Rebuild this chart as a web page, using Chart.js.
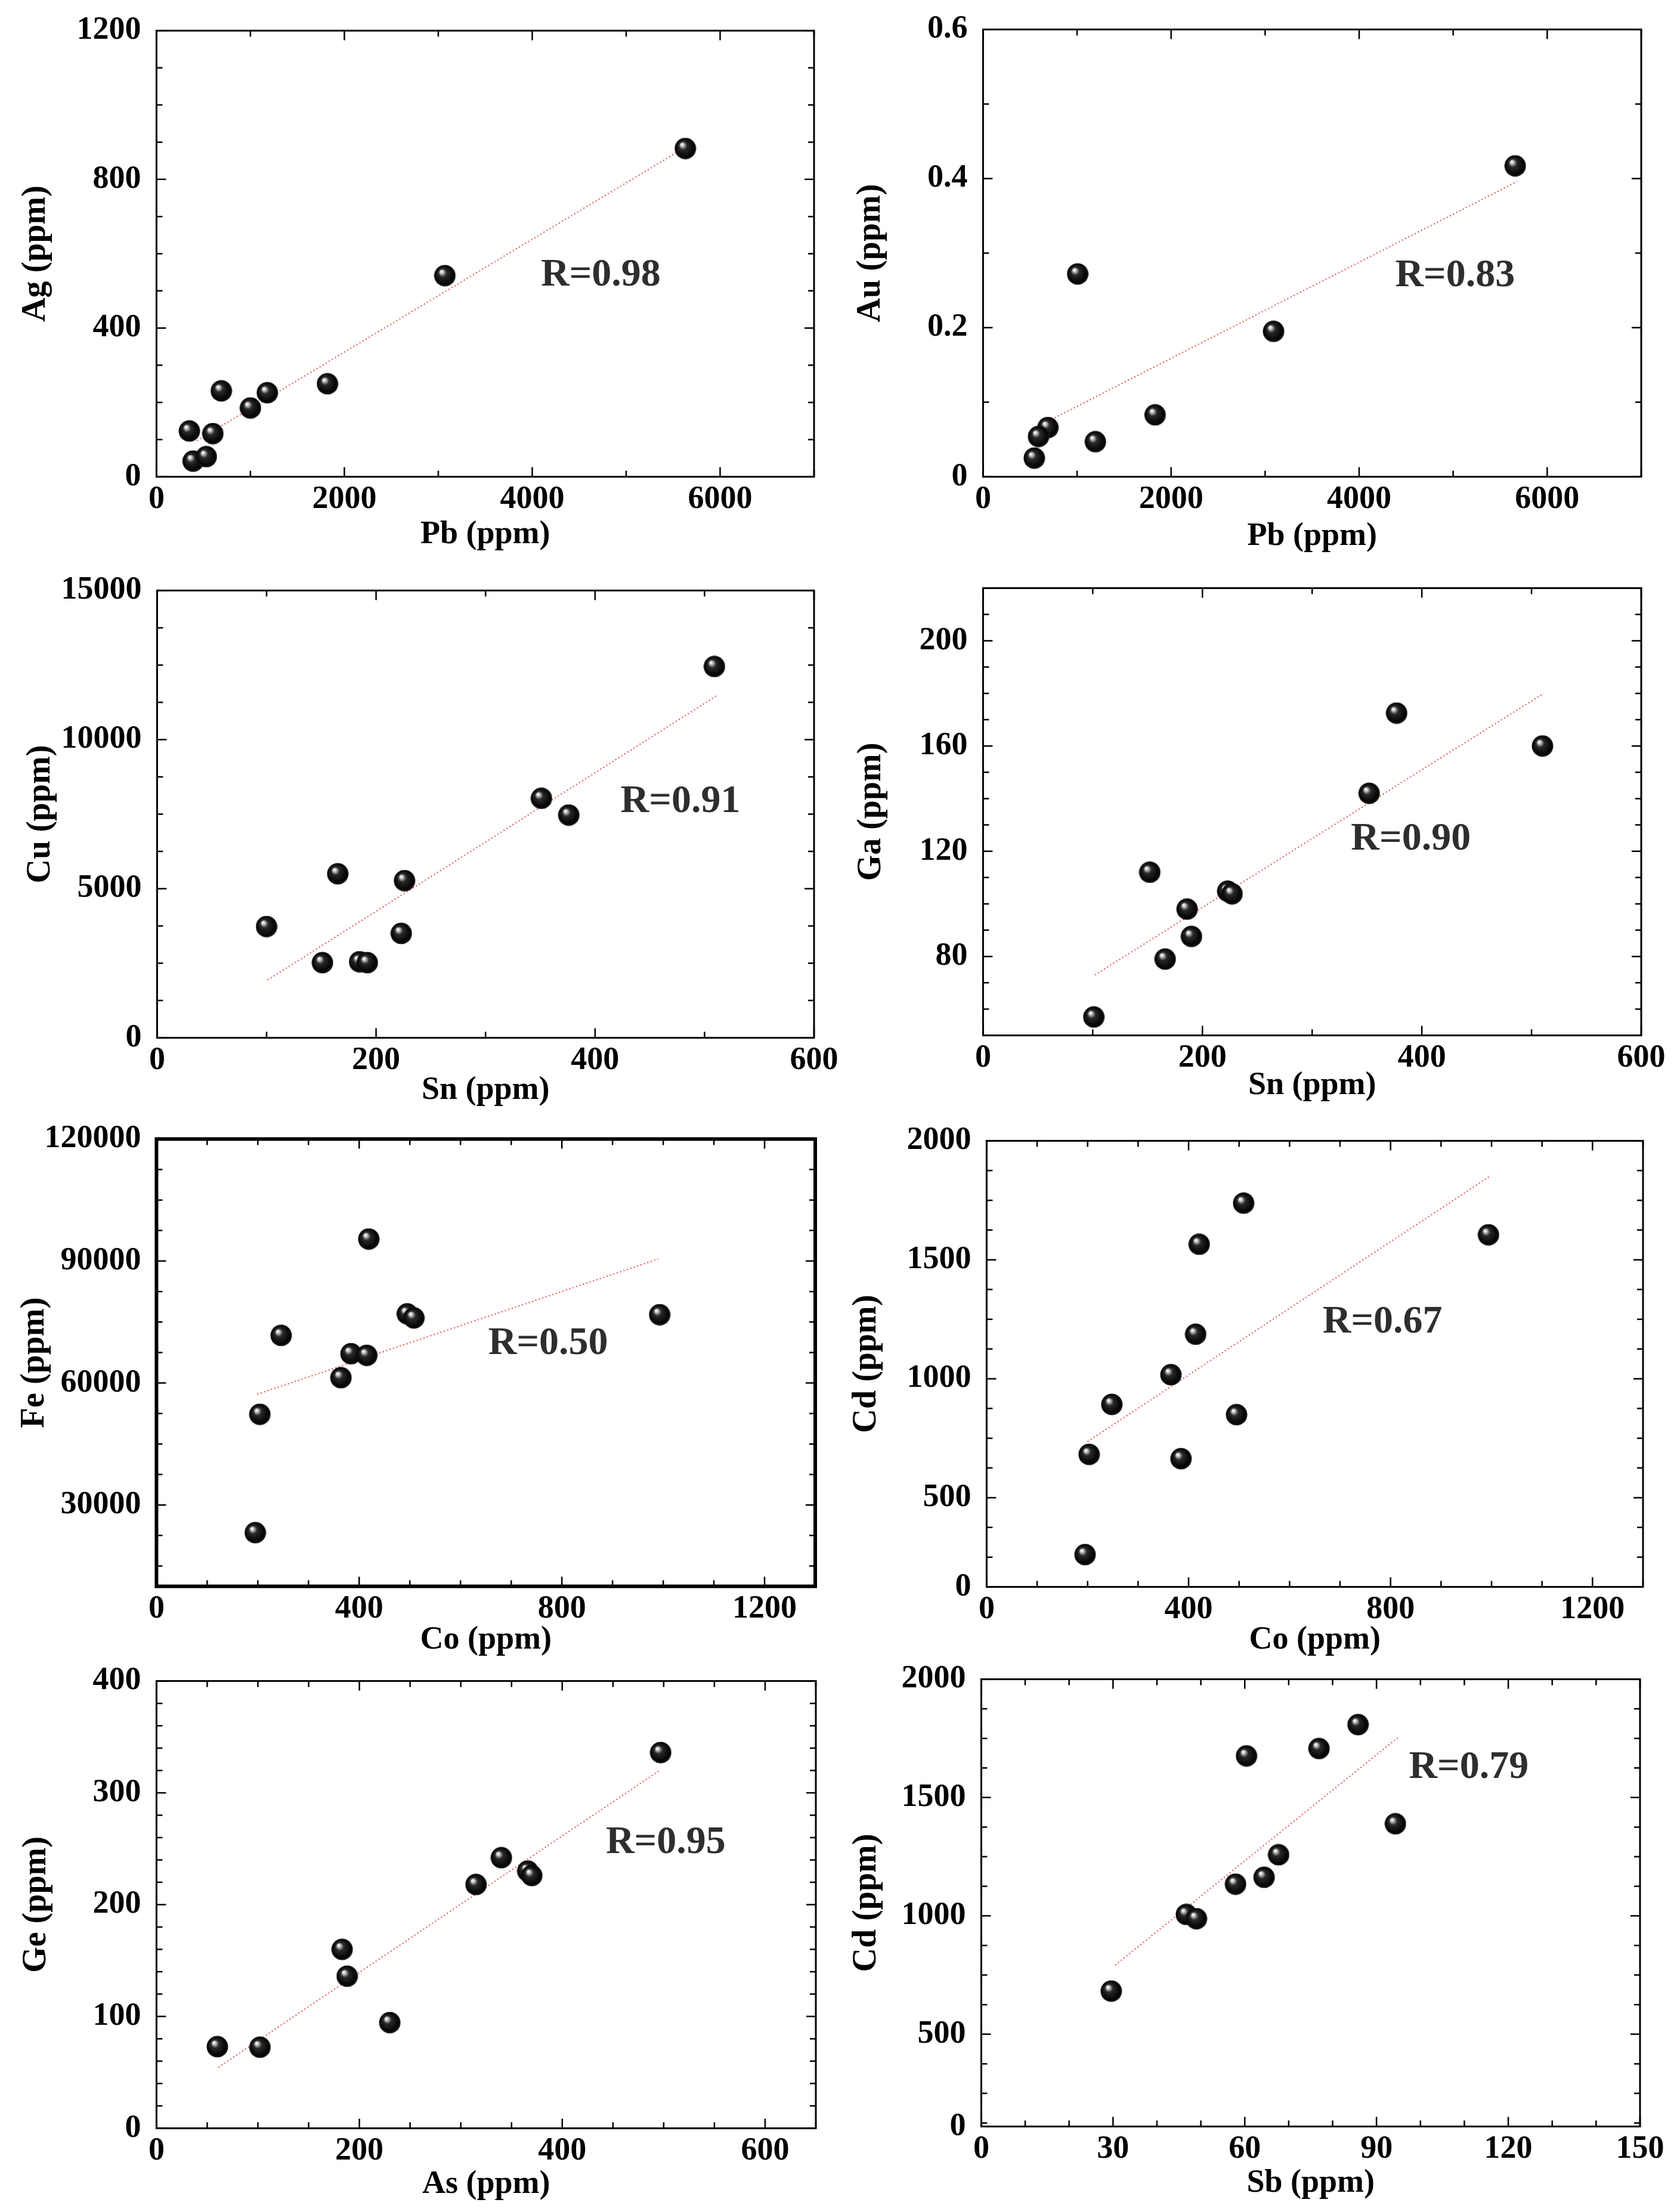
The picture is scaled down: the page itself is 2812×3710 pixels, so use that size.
<!DOCTYPE html>
<html><head><meta charset="utf-8">
<script src="https://cdn.jsdelivr.net/npm/chart.js@4.4.1/dist/chart.umd.min.js"></script>
<style>
html,body{margin:0;padding:0;background:#fff;width:2812px;height:3710px;overflow:hidden;position:relative}
canvas{position:absolute}
</style>
</head><body>
<script>
// ---------- data ----------
// Panel 1: Ag vs Pb
const pb1 = [5630, 3070, 1820, 690, 1180, 1000, 350, 600, 390, 530];
const ag1 = [883, 541, 250, 231, 226, 185, 123, 116, 42, 54];
const fitPb1 = [430, 5550];
const fitAg1 = [97, 874];
// Panel 2: Au vs Pb
const pb2 = [5660, 1006, 3090, 1830, 690, 590, 1195, 545];
const au2 = [0.417, 0.272, 0.195, 0.083, 0.066, 0.054, 0.047, 0.025];
const fitPb2 = [660, 5680];
const fitAu2 = [0.0725, 0.396];
// Panel 3: Cu vs Sn
const sn3 = [509, 351, 376, 165, 226, 100, 223, 151, 185, 192];
const cu3 = [12450, 8030, 7470, 5500, 5270, 3730, 3500, 2520, 2550, 2520];
const fitSn3 = [101, 511];
const fitCu3 = [1940, 11470];
// Panel 4: Ga vs Sn
const sn4 = [377, 510, 352, 152, 223, 227, 186, 190, 166, 101];
const ga4 = [172.5, 160, 142, 112, 104.8, 103.8, 98, 87.6, 79, 57];
const fitSn4 = [102, 511];
const fitGa4 = [73, 180];
// Panel 5: Fe vs Co
const co5 = [419, 495, 508, 993, 246, 384, 415, 364, 204, 195];
const fe5 = [95400, 77000, 76000, 76800, 71700, 67200, 66800, 61300, 52300, 23200];
const fitCo5 = [199, 990];
const fitFe5 = [57250, 90500];
// Panel 6: Cd vs Co
const co6 = [509, 421, 994, 414, 365, 248, 495, 203, 385, 195];
const cd6 = [1738, 1565, 1605, 1187, 1017, 892, 849, 682, 664, 261];
const fitCo6 = [200, 998];
const fitCd6 = [736, 1853];
// Panel 7: Ge vs As
const as7 = [497, 340, 366, 370, 315, 183, 188, 230, 60, 102];
const ge7 = [336, 242, 230, 226, 218, 160, 136, 94.5, 73, 72.5];
const fitAs7 = [61, 497];
const fitGe7 = [54.5, 320.6];
// Panel 8: Cd vs Sb
const sb8 = [85.8, 76.9, 60.4, 94.3, 67.7, 64.4, 57.9, 46.7, 49.0, 29.6];
const cd8 = [1808, 1707, 1676, 1389, 1258, 1163, 1134, 1006, 988, 682];
const fitSb8 = [30.5, 94.9];
const fitCd8 = [792, 1754];

// correlation labels
const rLabels = ['R=0.98', 'R=0.83', 'R=0.91', 'R=0.90', 'R=0.50', 'R=0.67', 'R=0.95', 'R=0.79'];

// tick values and tick labels
const ticksPb = [0, 2000, 4000, 6000];
const labelsPb = ['0', '2000', '4000', '6000'];
const ticksAg = [0, 400, 800, 1200];
const labelsAg = ['0', '400', '800', '1200'];
const ticksAu = [0, 0.2, 0.4, 0.6];
const labelsAu = ['0', '0.2', '0.4', '0.6'];
const ticksSn = [0, 200, 400, 600];
const labelsSn = ['0', '200', '400', '600'];
const ticksCu = [0, 5000, 10000, 15000];
const labelsCu = ['0', '5000', '10000', '15000'];
const ticksGa = [80, 120, 160, 200];
const labelsGa = ['80', '120', '160', '200'];
const ticksCo = [0, 400, 800, 1200];
const labelsCo = ['0', '400', '800', '1200'];
const ticksFe = [30000, 60000, 90000, 120000];
const labelsFe = ['30000', '60000', '90000', '120000'];
const ticksCd6 = [125, 500, 1000, 1500, 2000];
const labelsCd6 = ['0', '500', '1000', '1500', '2000'];
const ticksAs = [0, 200, 400, 600];
const labelsAs = ['0', '200', '400', '600'];
const ticksGe = [0, 100, 200, 300, 400];
const labelsGe = ['0', '100', '200', '300', '400'];
const ticksSb = [0, 30, 60, 90, 120, 150];
const labelsSb = ['0', '30', '60', '90', '120', '150'];
const ticksCd8 = [110, 500, 1000, 1500, 2000];
const labelsCd8 = ['0', '500', '1000', '1500', '2000'];

// ---------- panel layout / axis configuration ----------
const panels = [
  {xs: pb1, ys: ag1, fx: fitPb1, fy: fitAg1, xr: [0, 7000], yr: [0, 1200], xt: ticksPb, xl: labelsPb, yt: ticksAg, yl: labelsAg,
   xm: 1000, ym: 100, xTitle: 'Pb (ppm)', yTitle: 'Ag (ppm)', r: rLabels[0], rAt: [4730, 541], box: [262, 33, 1365, 800], yOff: 203, xOff: 97, frame: 3},
  {xs: pb2, ys: au2, fx: fitPb2, fy: fitAu2, xr: [0, 7000], yr: [0, 0.6], xt: ticksPb, xl: labelsPb, yt: ticksAu, yl: labelsAu,
   xm: 1000, ym: 0.1, xTitle: 'Pb (ppm)', yTitle: 'Au (ppm)', r: rLabels[1], rAt: [5020, 0.269], box: [1648, 31, 2752, 800], yOff: 189, xOff: 100, frame: 3},
  {xs: sn3, ys: cu3, fx: fitSn3, fy: fitCu3, xr: [0, 600], yr: [0, 15000], xt: ticksSn, xl: labelsSn, yt: ticksCu, yl: labelsCu,
   xm: 100, ym: 1250, xTitle: 'Sn (ppm)', yTitle: 'Cu (ppm)', r: rLabels[2], rAt: [478, 7920], box: [263, 972, 1365, 1741], yOff: 196, xOff: 88, frame: 3},
  {xs: sn4, ys: ga4, fx: fitSn4, fy: fitGa4, xr: [0, 600], yr: [50, 220], xt: ticksSn, xl: labelsSn, yt: ticksGa, yl: labelsGa,
   xm: 100, ym: 10, xTitle: 'Sn (ppm)', yTitle: 'Ga (ppm)', r: rLabels[3], rAt: [390, 124.5], box: [1648, 968, 2752, 1737], yOff: 188, xOff: 84, frame: 3},
  {xs: co5, ys: fe5, fx: fitCo5, fy: fitFe5, xr: [0, 1300], yr: [10000, 120000], xt: ticksCo, xl: labelsCo, yt: ticksFe, yl: labelsFe,
   xm: 100, ym: 7500, xTitle: 'Co (ppm)', yTitle: 'Fe (ppm)', r: rLabels[4], rAt: [773, 69650], box: [262, 1892, 1367, 2661], yOff: 205, xOff: 90, frame: 6},
  {xs: co6, ys: cd6, fx: fitCo6, fy: fitCd6, xr: [0, 1300], yr: [125, 2000], xt: ticksCo, xl: labelsCo, yt: ticksCd6, yl: labelsCd6,
   xm: 100, ym: 125, xTitle: 'Co (ppm)', yTitle: 'Cd (ppm)', r: rLabels[5], rAt: [784, 1237], box: [1654, 1895, 2755, 2662], yOff: 202, xOff: 89, frame: 3},
  {xs: as7, ys: ge7, fx: fitAs7, fy: fitGe7, xr: [0, 650], yr: [0, 400], xt: ticksAs, xl: labelsAs, yt: ticksGe, yl: labelsGe,
   xm: 50, ym: 20, xTitle: 'As (ppm)', yTitle: 'Ge (ppm)', r: rLabels[6], rAt: [502, 255], box: [262, 2801, 1368, 3570], yOff: 202, xOff: 94, frame: 3},
  {xs: sb8, ys: cd8, fx: fitSb8, fy: fitCd8, xr: [0, 150], yr: [110, 2000], xt: ticksSb, xl: labelsSb, yt: ticksCd8, yl: labelsCd8,
   xm: 10, ym: 125, xTitle: 'Sb (ppm)', yTitle: 'Cd (ppm)', r: rLabels[7], rAt: [111, 1626], box: [1645, 2798, 2750, 3567], yOff: 193, xOff: 95, frame: 3}
];

const FONT = '"Liberation Serif", "Times New Roman", serif';
const TICK_FONT = {family: FONT, size: 54, weight: 'bold', lineHeight: 1.2};
const TITLE_FONT = {family: FONT, size: 54, weight: 'bold', lineHeight: 1.2};
const YTITLE_FONT = {family: FONT, size: 56, weight: 'bold', lineHeight: 1.2};

function makeBall(d) {
  const c = document.createElement('canvas');
  c.width = d; c.height = d;
  const g = c.getContext('2d');
  const r = d / 2;
  const grad = g.createRadialGradient(r * 0.68, r * 0.62, r * 0.04, r, r, r);
  grad.addColorStop(0, '#ffffff');
  grad.addColorStop(0.13, '#bdbdbd');
  grad.addColorStop(0.34, '#2a2a2a');
  grad.addColorStop(0.82, '#040404');
  grad.addColorStop(1, '#1c1c1c');
  g.fillStyle = grad;
  g.beginPath(); g.arc(r, r, r - 0.5, 0, Math.PI * 2); g.fill();
  return c;
}
const ball = makeBall(37);

const frameTicks = {
  id: 'frameTicks',
  afterDraw(chart, args, o) {
    const ctx = chart.ctx;
    const {left, top, right, bottom} = chart.chartArea;
    const xs = chart.scales.x, ys = chart.scales.y;
    ctx.save();
    ctx.strokeStyle = '#000';
    ctx.lineWidth = 2.5;
    const eps = 1e-6;
    const isMajor = (v, arr) => arr.some(t => Math.abs(t - v) < 1e-6 * Math.max(1, Math.abs(v)));
    // x ticks (bottom and top, inward)
    for (let i = 0; ; i++) {
      const v = o.xr[0] + i * o.xm;
      if (v > o.xr[1] + eps) break;
      const p = xs.getPixelForValue(v);
      const len = isMajor(v, o.xt) ? 16 : 10;
      ctx.beginPath();
      ctx.moveTo(p, bottom); ctx.lineTo(p, bottom - len);
      ctx.moveTo(p, top); ctx.lineTo(p, top + len);
      ctx.stroke();
    }
    // y ticks (left and right, inward)
    const yStart = Math.ceil((o.yr[0] - eps) / o.ym) * o.ym;
    for (let i = 0; ; i++) {
      const v = yStart + i * o.ym;
      if (v > o.yr[1] + eps) break;
      const p = ys.getPixelForValue(v);
      const len = isMajor(v, o.yt) ? 16 : 10;
      ctx.beginPath();
      ctx.moveTo(left, p); ctx.lineTo(left + len, p);
      ctx.moveTo(right, p); ctx.lineTo(right - len, p);
      ctx.stroke();
    }
    // frame
    ctx.lineWidth = o.frame;
    ctx.strokeRect(left, top, right - left, bottom - top);
    // R label
    ctx.font = 'bold 66px ' + FONT;
    ctx.fillStyle = '#2e2e2e';
    ctx.textAlign = 'center';
    ctx.textBaseline = 'middle';
    ctx.fillText(o.r, xs.getPixelForValue(o.rAt[0]), ys.getPixelForValue(o.rAt[1]));
    ctx.restore();
  }
};

const PAD_TOP = 40, PAD_RIGHT = 70, HALF_LINE = 54 * 1.2 / 2;

panels.forEach((p, idx) => {
  const [L, T, R, B] = p.box;
  const yW = p.yOff + HALF_LINE;
  const xH = p.xOff + HALF_LINE;
  const cv = document.createElement('canvas');
  const W = Math.round(yW + (R - L) + PAD_RIGHT);
  const H = Math.round(PAD_TOP + (B - T) + xH);
  cv.width = W; cv.height = H;
  cv.style.width = W + 'px'; cv.style.height = H + 'px';
  cv.style.left = Math.round(L - yW) + 'px';
  cv.style.top = Math.round(T - PAD_TOP) + 'px';
  document.body.appendChild(cv);

  const pts = p.xs.map((x, i) => ({x: x, y: p.ys[i]}));
  const fit = p.fx.map((x, i) => ({x: x, y: p.fy[i]}));

  new Chart(cv, {
    type: 'scatter',
    data: {
      datasets: [
        {data: pts, pointStyle: ball, pointRadius: 18, pointHoverRadius: 18, order: 1, clip: false},
        {data: fit, showLine: true, pointRadius: 0, borderColor: 'rgba(214,70,70,0.9)', borderWidth: 2.2,
         borderDash: [2, 4], fill: false, order: 2}
      ]
    },
    options: {
      responsive: false,
      animation: false,
      devicePixelRatio: 1,
      events: [],
      layout: {padding: {top: PAD_TOP, right: PAD_RIGHT, left: 0, bottom: 0}},
      plugins: {legend: {display: false}, tooltip: {enabled: false},
        frameTicks: {xr: p.xr, yr: p.yr, xm: p.xm, ym: p.ym, xt: p.xt, yt: p.yt, frame: p.frame, r: p.r, rAt: p.rAt}},
      scales: {
        x: {
          type: 'linear', position: 'bottom', min: p.xr[0], max: p.xr[1],
          grid: {display: false, drawTicks: false}, border: {display: false},
          afterBuildTicks: s => { s.ticks = p.xt.map(v => ({value: v})); },
          afterFit: s => { s.height = xH; },
          ticks: {font: TICK_FONT, color: '#000', padding: 6, autoSkip: false, maxRotation: 0,
                  callback: (v, i) => p.xl[i]},
          title: {display: true, text: p.xTitle, font: TITLE_FONT, color: '#000', padding: 0}
        },
        y: {
          type: 'linear', position: 'left', min: p.yr[0], max: p.yr[1],
          grid: {display: false, drawTicks: false}, border: {display: false},
          afterBuildTicks: s => { s.ticks = p.yt.map(v => ({value: v})); },
          afterFit: s => { s.width = yW; },
          ticks: {font: TICK_FONT, color: '#000', padding: 26, autoSkip: false,
                  callback: (v, i) => p.yl[i]},
          title: {display: true, text: p.yTitle, font: YTITLE_FONT, color: '#000', padding: 0}
        }
      }
    },
    plugins: [frameTicks]
  });
});
</script>
</body></html>
